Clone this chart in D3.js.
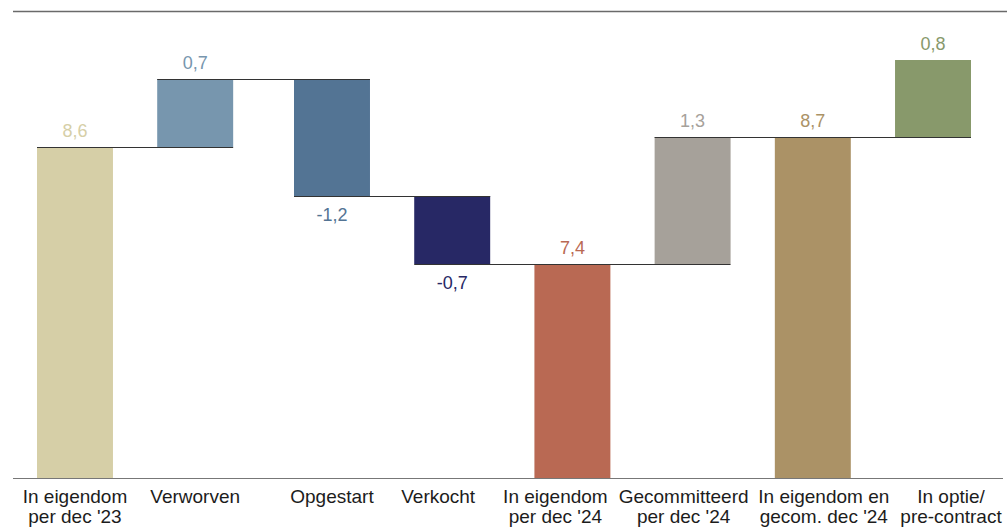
<!DOCTYPE html>
<html>
<head>
<meta charset="utf-8">
<script src="https://cdn.jsdelivr.net/npm/d3@7"></script>
<style>
  html, body { margin: 0; padding: 0; background: #fff; }
  svg { display: block; }
  text { font-family: "Liberation Sans", Arial, Helvetica, sans-serif; }
</style>
</head>
<body>
<svg id="chart" width="1007" height="528"></svg>
<script>
// Portfolio waterfall (x 1000 units): owned, acquired, started, sold, committed, options
const categories = [
  "In eigendom\nper dec '23",
  "Verworven",
  "Opgestart",
  "Verkocht",
  "In eigendom\nper dec '24",
  "Gecommitteerd\nper dec '24",
  "In eigendom en\ngecom. dec '24",
  "In optie/\npre-contract"
];
const values = [8.6, 0.7, -1.2, -0.7, 7.4, 1.3, 8.7, 0.8];
const kinds  = ["total", "delta", "delta", "delta", "total", "delta", "total", "delta"];
const colors = ["#d6cfa7", "#7796ae", "#537494", "#272865", "#b96953", "#a6a19a", "#ab9266", "#88996b"];
const yDomain = [5.2, 10];

const W = 1007, H = 528;
const svg = d3.select("#chart");

const nl = d3.formatLocale({ decimal: ",", thousands: ".", grouping: [3], currency: ["€", ""], minus: "-" });
const fmt = nl.format(".1f");

// running totals -> bar start / end
let running = yDomain[0];
const bars = values.map((v, i) => {
  let start, end;
  if (kinds[i] === "total") { start = yDomain[0]; end = v; }
  else { start = running; end = running + v; }
  running = end;
  return { i, v, start, end, color: colors[i], label: categories[i] };
});

const y = d3.scaleLinear().domain(yDomain).range([478, 11]);
const x = d3.scaleBand().domain(d3.range(categories.length))
  .range([53.6, 971]).paddingInner(0.368).paddingOuter(0);

// the first two columns sit a little closer to the left edge
const barShift = i => (i < 2 ? -16.6 : 0);
// per-column label offsets so the wider labels do not collide
const labelShift = [0, 0, 0, -14, -17, -9, 11, 18];

const bx = i => x(i) + barShift(i);
const bw = x.bandwidth();
const py = v => Math.round(y(v));

// frame line along the top
svg.append("line")
  .attr("x1", 13).attr("x2", W).attr("y1", 11.5).attr("y2", 11.5)
  .attr("stroke", "#6a6a6a").attr("stroke-width", 1.4);

// bars
svg.append("g").selectAll("rect").data(bars).join("rect")
  .attr("x", d => bx(d.i))
  .attr("width", bw)
  .attr("y", d => py(Math.max(d.start, d.end)))
  .attr("height", d => py(Math.min(d.start, d.end)) - py(Math.max(d.start, d.end)))
  .attr("fill", d => d.color);

// connectors: level at the end of each column, spanning to the next column
svg.append("g").selectAll("line").data(bars.slice(0, -1)).join("line")
  .attr("x1", d => bx(d.i))
  .attr("x2", d => bx(d.i + 1) + bw)
  .attr("y1", d => py(d.end) + 0.5)
  .attr("y2", d => py(d.end) + 0.5)
  .attr("stroke", "#333")
  .attr("stroke-width", 1);

// baseline
svg.append("line")
  .attr("x1", 13).attr("x2", 1003).attr("y1", y(yDomain[0]) + 0.5).attr("y2", y(yDomain[0]) + 0.5)
  .attr("stroke", "#777").attr("stroke-width", 1.2);

// value labels
svg.append("g").selectAll("text").data(bars).join("text")
  .attr("x", d => bx(d.i) + bw / 2)
  .attr("y", d => d.v < 0 ? py(d.end) + 25 : py(d.end) - 10)
  .attr("text-anchor", "middle")
  .attr("font-size", 18)
  .attr("fill", d => d.color)
  .text(d => fmt(d.v));

// category labels
const cat = svg.append("g").selectAll("text").data(bars).join("text")
  .attr("text-anchor", "middle")
  .attr("font-size", 19)
  .attr("fill", "#1c1c1c");
cat.each(function (d) {
  const t = d3.select(this);
  const cx = bx(d.i) + bw / 2 + labelShift[d.i];
  d.label.split("\n").forEach((line, k) => {
    t.append("tspan").attr("x", cx).attr("y", 503 + k * 19.5).text(line);
  });
});
</script>
</body>
</html>
